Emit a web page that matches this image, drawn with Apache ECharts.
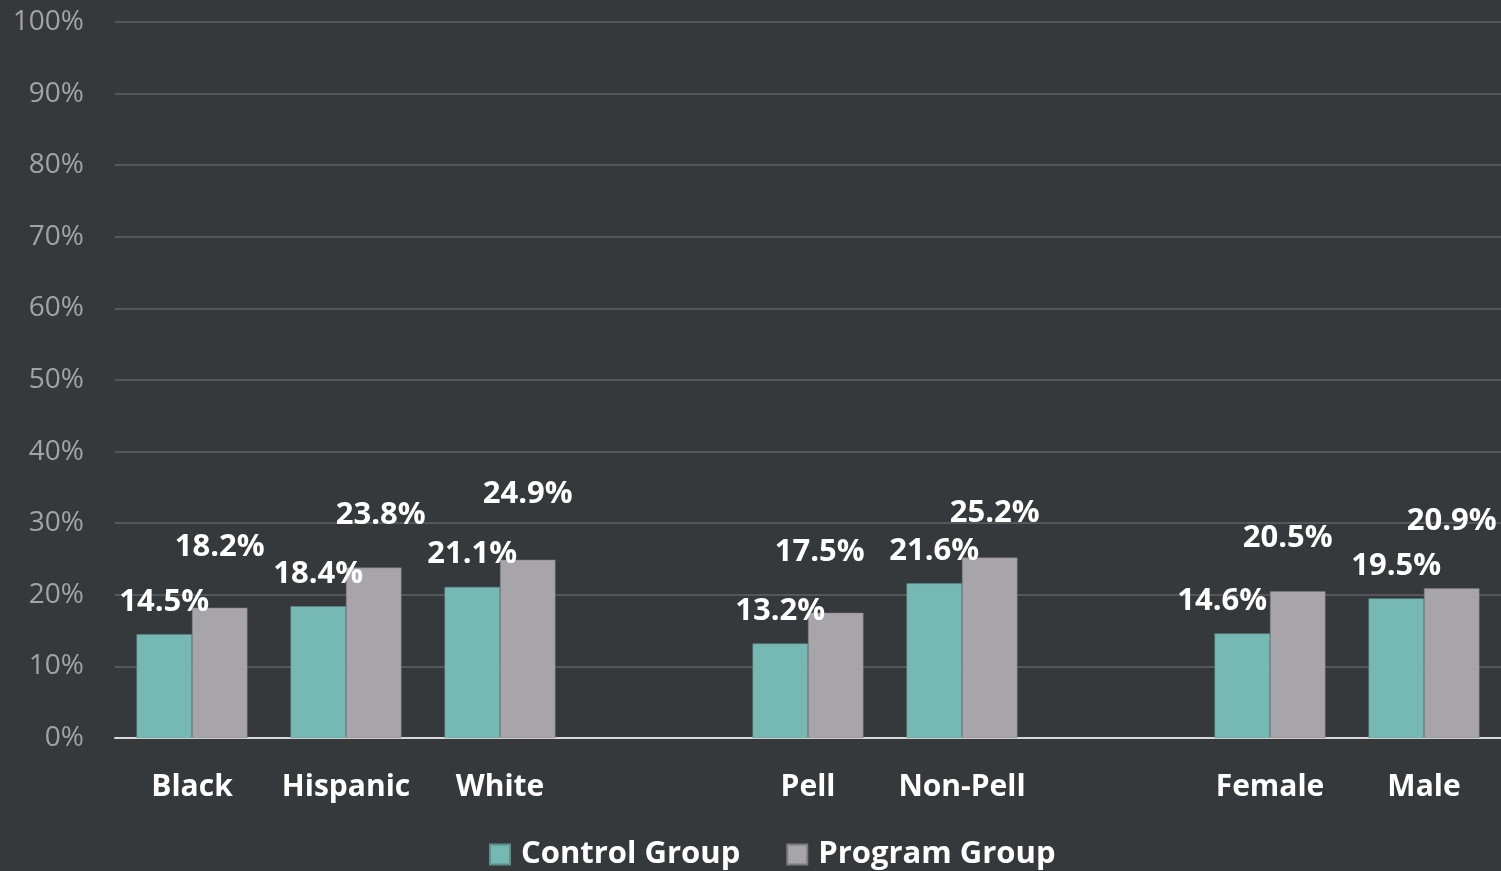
<!DOCTYPE html>
<html>
<head>
<meta charset="utf-8">
<script src="https://cdn.jsdelivr.net/npm/echarts@6/dist/echarts.min.js"></script>
<style>
  html, body { margin: 0; padding: 0; background: #36393c; }
  #chart { width: 1501px; height: 871px; }
</style>
</head>
<body>
<div id="chart"></div>
<script>
// Categories (blank entries make the gaps between groups)
var categories = ['Black', 'Hispanic', 'White', '', 'Pell', 'Non-Pell', '', 'Female', 'Male'];

// Series values (percent)
var controlGroup = [14.5, 18.4, 21.1, null, 13.2, 21.6, null, 14.6, 19.5];
var programGroup = [18.2, 23.8, 24.9, null, 17.5, 25.2, null, 20.5, 20.9];

// Y axis ticks
var yTicks = [0, 10, 20, 30, 40, 50, 60, 70, 80, 90, 100];

// Label placement nudges, to follow the hand-placed labels of the original
var controlLabelShift = [0, 0, 0, 0, 0, 0, 0, -20, 0];
var programLabelLift = [45, 37, 50, 0, 45, 29, 0, 38, 52];
var programLabelShift = [0, 7, 0, 0, -16, 5, 0, -10, 0];

var chart = echarts.init(document.getElementById('chart'));

var fmt = function (p) { return p.value.toFixed(1) + '%'; };

var controlData = controlGroup.map(function (v, i) {
    if (v === null) return null;
    return { value: v, label: { offset: [controlLabelShift[i], 0] } };
});
var programData = programGroup.map(function (v, i) {
    if (v === null) return null;
    return { value: v, label: { distance: programLabelLift[i], offset: [programLabelShift[i], 0] } };
});

var labelStyle = {
    show: true,
    position: 'top',
    color: '#ffffff',
    fontFamily: 'Open Sans',
    fontWeight: 'bold',
    fontSize: 31,
    formatter: fmt
};

chart.setOption({
    backgroundColor: '#36393c',
    animation: false,
    color: ['#76b9b4', '#a8a5aa'],
    textStyle: { fontFamily: 'Open Sans' },

    grid: {
        left: 115,
        right: 0,
        top: 22,
        bottom: 133,
        containLabel: false
    },

    legend: {
        bottom: -4,
        left: 484,
        itemWidth: 20,
        itemHeight: 20,
        itemGap: 46,
        icon: 'rect',
        textStyle: {
            color: '#ffffff',
            fontSize: 31,
            fontWeight: 'bold',
            fontFamily: 'Open Sans',
            padding: [0, 0, 0, 6]
        },
        data: ['Control Group', 'Program Group']
    },

    xAxis: {
        type: 'category',
        data: categories,
        axisTick: { show: false },
        axisLine: { lineStyle: { color: '#d9d9d9', width: 2 } },
        axisLabel: {
            interval: 0,
            color: '#ffffff',
            fontSize: 30,
            fontWeight: 'bold',
            fontFamily: 'Open Sans',
            margin: 34
        }
    },

    yAxis: {
        type: 'value',
        min: yTicks[0],
        max: yTicks[yTicks.length - 1],
        interval: yTicks[1] - yTicks[0],
        axisLine: { show: false },
        axisTick: { show: false },
        axisLabel: {
            color: '#a3a3a3',
            fontSize: 28,
            fontFamily: 'Open Sans',
            margin: 31,
            formatter: '{value}%'
        },
        splitLine: { lineStyle: { color: '#606366', width: 1.5 } }
    },

    series: [
        {
            name: 'Control Group',
            type: 'bar',
            data: controlData,
            barWidth: '36%',
            barGap: '0%',
            itemStyle: { borderColor: '#5e8f8b', borderWidth: 0.5 },
            label: Object.assign({}, labelStyle, { distance: 17 })
        },
        {
            name: 'Program Group',
            type: 'bar',
            data: programData,
            barWidth: '36%',
            itemStyle: { borderColor: '#7d7b80', borderWidth: 0.5 },
            label: Object.assign({}, labelStyle)
        }
    ]
});
</script>
</body>
</html>
